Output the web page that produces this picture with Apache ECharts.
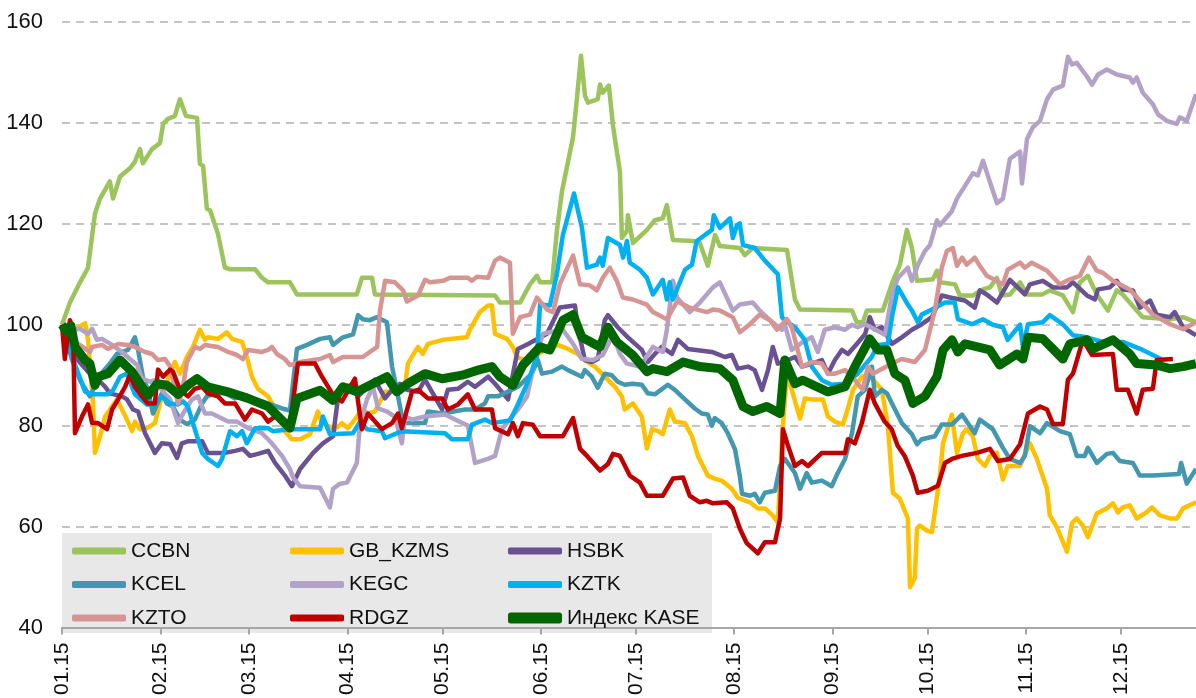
<!DOCTYPE html>
<html>
<head>
<meta charset="utf-8">
<script src="https://cdn.jsdelivr.net/npm/echarts@6/dist/echarts.min.js"></script>
<style>
  html, body { margin: 0; padding: 0; background: #fff; }
  #chart { width: 1196px; height: 698px; }
</style>
</head>
<body>
<div id="chart"></div>
<script>
// x = день года (0 = 1 января 2015), y = значение индекса (старт = 100)
const monthStarts = [0, 31, 59, 90, 120, 151, 181, 212, 243, 273, 304, 334]
const monthLabels = ['01.15', '02.15', '03.15', '04.15', '05.15', '06.15', '07.15', '08.15', '09.15', '10.15', '11.15', '12.15']
const lastDay = 357.7

const ccbn = [[0,100],[2.5,104.4],[5.7,108.4],[8.2,111.3],[10.4,122],[12,125],[15.1,128.4],[16.1,125],[18.3,129.4],[21.4,131],[23,132.3],[24.6,134.8],[25.5,132],[28.4,134.8],[30.9,136],[31.9,139.8],[33.4,140.8],[35.6,141.4],[37.2,144.7],[39.1,141.4],[42.6,141],[43.5,131.9],[44.5,131.5],[45.7,123],[46.7,122.7],[49.2,118],[51.4,111.3],[53,111],[60.9,111],[63.1,109.3],[65,108.4],[71.9,108.4],[74.1,106],[93,106],[94.6,109.3],[97.8,109.3],[98.7,106],[136.6,105.8],[138.1,104.4],[144.5,104.4],[147.6,108],[149.8,109.7],[150.8,108.4],[154.6,108.4],[156.1,118.6],[157.7,126.4],[161.2,137.2],[162.4,144.7],[163.7,153.3],[165,145.3],[165.9,144],[169,144.7],[169.7,147.6],[170.6,146],[172.5,147.4],[173.8,139.4],[176,130.3],[176.6,117.2],[178.2,118.6],[178.5,121.7],[180.1,116.2],[184.5,118.8],[187,120.7],[189.5,121.1],[190.8,123.7],[192.7,116.8],[199,116.6],[201.2,116.2],[203.7,111.7],[206,117.8],[207.5,115.6],[213.8,115.2],[215.4,113.8],[217.9,115.2],[228.7,114.8],[231.2,105],[232.8,103],[249.2,102.8],[250.7,100.5],[252.6,100.5],[253.9,102.8],[258.9,102.8],[262.1,108.7],[264.3,111.9],[266.5,118.8],[268.1,115.2],[269.7,108.7],[274.7,109],[276,110.7],[276.9,108.4],[281.7,108],[283.2,105.8],[287.3,105.8],[290.5,107],[292.7,107.4],[294.9,109.3],[296.5,105.8],[299,106],[302.2,108.4],[304.4,106],[309.1,106],[311.6,106.8],[315.7,105.8],[318.9,102.5],[321.1,108.4],[323.6,109.7],[326.4,106],[329.9,102.8],[332.7,106.8],[334.6,106],[339,102.8],[340.9,101.5],[349.5,101.1],[353.6,101.5],[357.7,100.5]]

const gbKzms = [[0,100],[1.9,98.2],[7.3,100.3],[8.2,97],[9.8,84.4],[10.4,74.6],[12,77.9],[13.6,81.8],[15.8,83.8],[17.3,85.2],[18.9,83.2],[20.5,81.2],[22.1,78.9],[23,80.8],[24.6,79.3],[26.8,79.5],[29.3,80.5],[30.9,84.4],[32.5,87.7],[35.6,92.6],[37.2,90.3],[39.4,93.6],[41.3,95.6],[43.5,99],[45.1,97],[46,97.5],[49.2,97.2],[52,98.5],[53.6,97.2],[56.8,96.6],[58.3,93.6],[59.9,89.7],[61.8,87.3],[65,85.8],[67.2,83.4],[70.3,78.9],[72.5,77.3],[75.1,77.3],[78.2,78.3],[80.7,82.8],[82,80.5],[86.1,79.3],[88.3,80.5],[90.2,79.5],[92.4,81.2],[94.6,83.2],[96.5,82.4],[98.7,82.8],[101.9,86.7],[106,86.7],[108.2,87.7],[109.1,92.3],[112.3,95.6],[113.8,94.2],[115.4,96.2],[120.2,97],[127.7,97.5],[128.7,99.1],[131.8,102.5],[134.4,103.8],[135.6,103.8],[136.6,98.2],[140.4,97.2],[142.2,95.6],[143.5,93.6],[146,93],[153.3,95.2],[156.4,96],[159.6,95.2],[162.7,94.2],[164.9,93],[168.1,91.7],[171.2,89.7],[174.4,87.7],[176.6,85.8],[177.5,83.2],[180.1,84.4],[182.9,81.8],[184.5,75.5],[186.1,79.3],[188,78.9],[189.5,78.3],[191.7,83.2],[193.3,80.8],[196.5,80.5],[198.7,77.9],[200.6,74],[203.7,70.1],[205.9,69.5],[208.1,69.1],[211.3,67.5],[213.2,65.7],[217,64.8],[219.5,63.6],[221.7,63.6],[224.2,62.2],[225.8,60.8],[227.4,80],[228.7,90.3],[230.2,87.1],[232.8,81.4],[234.3,85.4],[236.5,85.2],[240,85.2],[241.6,81.8],[243.8,80.8],[246.3,80.2],[247.9,83.4],[249.5,87.1],[252.3,89.7],[254.2,90.1],[256.4,88.7],[258.6,87.1],[260.5,80],[262.1,66.7],[264.3,65.5],[266.8,61.6],[267.5,48],[269,49.8],[269.7,59.6],[270.6,60.2],[272.8,59.2],[274.4,58.9],[275.3,62.8],[276.9,70],[277.9,76.5],[280.7,82.2],[282.3,74.6],[284.2,78.5],[285.4,79.3],[287.3,77.9],[288.9,73.4],[291.1,72],[292.7,74],[294.9,74.6],[296.8,69.3],[298.3,72],[302.2,72],[303.1,73.4],[305.3,76.5],[307.5,73.4],[310.7,67.5],[311.6,62.2],[313.8,59.9],[317,55],[318.6,60.7],[320.1,61.6],[322,60.2],[323.6,57.9],[326.4,62.6],[329.6,63.6],[331.5,64.6],[333.1,62.8],[334.6,63.8],[336.8,64.2],[339,61.6],[342.1,62.8],[343.8,63.8],[346.3,62.2],[349.5,61.6],[351.7,61.6],[353.6,63.6],[357.7,64.8]]

const hsbk = [[0,100],[4.1,93.6],[8.8,90.3],[11.4,89.1],[13.6,87.7],[15.1,86.4],[18.9,85.8],[20.5,85.2],[22.4,83.2],[24,82.8],[26.2,78.5],[29.3,74.6],[31.5,76.5],[34.1,76.3],[36.3,73.6],[37.8,76.5],[39.7,76.9],[44.2,76.9],[46,74.6],[51.4,74.6],[54.6,75],[57.1,75.4],[59.3,74],[61.8,74.4],[65,75],[67.2,72.6],[70.3,70.1],[72.5,68],[75.1,71.4],[79.2,74.6],[82.3,76.5],[85.5,77.9],[87,85.2],[88.6,87.7],[92.4,88.1],[93.4,85.8],[98.7,89.1],[101.9,85.4],[104.1,87.1],[106.6,88.3],[108.8,87.1],[112.3,86.7],[114.5,89.1],[116.7,86.7],[119.9,83.2],[121.7,87.1],[124.9,87.3],[128,88.7],[130.3,87.7],[134.4,89.7],[136.6,88.3],[140.7,85.2],[143.8,95.2],[145.1,95.6],[147,96.2],[153,98.2],[157,103.4],[161.8,103.8],[162.7,99.5],[164.9,93],[167.1,92.6],[169,93.2],[171.2,100.9],[172.2,101.9],[175.3,99.5],[178.5,97.5],[182.9,95],[184.8,92.6],[187,94.2],[189.2,95.6],[192.4,94.2],[194.3,97],[197.4,95.2],[205,94.6],[209.1,93.6],[211.3,94],[213.2,91.3],[216.4,91.7],[218.5,91],[220.8,87.1],[222.7,91],[224.2,95.6],[225.8,92.3],[229,93],[231.2,93.6],[233.4,91.7],[236.5,92.3],[239.7,93],[241.6,90.3],[243.8,93],[246,95],[247.9,94.2],[250.7,96.2],[253.3,98.1],[254.8,101.5],[256.4,99],[258.6,99.5],[261.8,96.2],[264.9,97.5],[268.1,99],[271.2,100.1],[274.4,101.5],[277.5,105.8],[280.1,105.4],[284.8,104.8],[287.9,103.4],[289.5,106.8],[291.7,106],[294.9,104.4],[299,108.9],[303.7,106],[305.3,108],[309.4,108.7],[312.6,107.4],[317,107.4],[318.9,108.4],[323.3,105.8],[325.8,105],[326.8,107],[330.5,107.4],[332.7,108.7],[334.6,107],[337.8,106.8],[340,103.4],[343.2,104.8],[345.3,102],[349.5,101.5],[351,102.5],[353.6,99.5],[357.7,97.9]]

const kcel = [[0,100],[3.2,93],[5.7,89],[8.8,85.8],[12,90],[15.1,92.3],[17.3,94.2],[20.8,95],[23,97.5],[24,95],[25.5,89.7],[27.1,87.1],[28.7,82.4],[31.5,86.4],[33.1,84.4],[35,83.8],[37.2,81.2],[39.4,80.3],[41.9,81.2],[44.2,84.4],[45.7,85.8],[48.3,86.4],[51.4,86.4],[54.6,85.4],[56.8,85.8],[60.9,85.2],[65,84.4],[69.4,83.4],[71.9,83],[74.1,95.2],[77.3,96],[81.4,97.2],[84.5,97.5],[85.5,96],[88.6,97.5],[91.8,98.1],[93.4,101.9],[94.9,101.1],[97.1,100.9],[99.4,101.5],[102.5,100.5],[104.1,91.7],[105.6,87.1],[107.6,80.5],[114.5,80.5],[115.4,82.8],[119.9,82.4],[127.1,83.2],[130.3,83.2],[133.4,84.4],[134.4,85.8],[137.5,85.8],[141.9,87.1],[143.8,87.7],[148.2,90.3],[150.1,93],[151.4,90.3],[154.5,90.7],[157.7,91.7],[159.6,91],[164,89.7],[164.9,91],[167.1,89.7],[169,87.5],[171.2,90.3],[173.4,90],[175.3,88.7],[177.5,88.1],[179.8,88.3],[182.9,88.1],[184.8,86.4],[187,86.2],[191.1,88.1],[193.3,87.1],[196.5,85.2],[199.6,83.4],[201.8,82.4],[203.7,82.2],[205,80],[205.9,81.5],[208.1,80.5],[210,78.5],[212.3,75.3],[213.8,70],[214.5,66.5],[217,66.1],[218.5,66.5],[220.1,64.8],[221.7,66.7],[224.9,67.1],[226.5,72],[228,73.4],[231.2,70.6],[232.8,67.5],[234.9,70.6],[236.5,68.7],[239.7,69.1],[242.8,68],[244.7,70.6],[247,73.4],[249.2,78.5],[251,85.8],[253.3,87.1],[255.5,91.7],[256.4,85.8],[258.6,87.1],[260.2,86.4],[261.8,84.4],[264.9,80.5],[268.1,78.3],[269.7,76.3],[271.2,77.3],[275.3,77.9],[277.5,80.2],[280.7,80.2],[283.9,82.2],[285.7,80.5],[287.9,78.5],[289.5,81.2],[293.6,79.3],[296.8,75.6],[299,73.4],[302.2,72.6],[303.7,74],[305.3,79.9],[308.5,78.5],[310.7,80.5],[314.8,78.9],[317.9,78.3],[320.1,74],[322.6,74],[323.6,75.6],[326.4,72.6],[329.6,74.4],[331.5,74.6],[333.7,73],[337.8,72.6],[340,70.1],[344.1,70.1],[352.3,70.4],[353,72.6],[354.8,68.5],[357.7,71.4]]

const kegc = [[0,100],[4.1,99],[5.7,99.2],[8.2,98.2],[9.5,99.2],[11,97],[12.6,97.2],[15.8,96],[18.9,94.6],[21.4,93.2],[23.7,92],[25.2,89.3],[27.8,88.7],[29.3,89],[31.9,86.7],[34.1,85.2],[36.6,80.5],[38.2,82.4],[41,85.2],[42.9,85.8],[45.1,82.4],[47.3,82.4],[49.2,81.8],[52.4,80.8],[55.2,80.8],[58.7,79.5],[63.1,78.5],[66.2,76.5],[69.4,74],[71.9,71.4],[72.9,69.7],[75.1,68],[81.4,67.7],[84.5,63.8],[85.5,67.5],[87.7,68.5],[89.9,68.7],[93,72.6],[94,80.5],[96.2,85.2],[98.1,87.7],[99.7,83.4],[102.5,82.8],[105,81.8],[107.2,76.5],[108.2,81.8],[110.4,81.2],[114.5,81.8],[120.8,82.2],[124,81.2],[128,80],[130.3,72.6],[134.4,73.4],[136.6,74],[138.8,79.3],[141.9,81.8],[143.8,83.2],[146.7,85.8],[149.2,93],[151.7,98.2],[158,99],[161.2,96.2],[164,93.2],[167.5,93],[170.6,94],[173.8,98],[176,94.2],[178.2,92.3],[182.3,91.7],[186.4,95.6],[189.5,94.6],[190.8,99],[192.7,108.7],[194,105.4],[198,102.5],[201.2,104.4],[205.3,107.4],[207.5,108.4],[209.7,105.4],[211.6,102.8],[213.8,104],[217.9,104.4],[220.1,102.8],[223.3,100.9],[227.1,99],[228,100.1],[230.2,95],[233.7,96.6],[236.5,97.5],[238.4,94.6],[240.6,99],[243.8,99.5],[247,99],[249.2,100],[251,99.5],[253.3,100.1],[259.6,98],[261.8,106],[263.7,109.3],[266.8,111.3],[268.1,108.7],[270,111.9],[272.2,114.6],[273.8,115.8],[276,120.7],[276.9,119.7],[280.7,122.5],[282.3,125],[287.3,130],[288.9,129.6],[290.5,132.5],[294.9,124.1],[296.8,125],[299,132.9],[302.2,134.3],[302.8,128],[304.4,136.8],[306.3,139.2],[308.5,140.4],[310.7,144.7],[312.6,146.6],[315.7,147.4],[317.3,153.1],[318.6,151.6],[320.1,151.9],[323.3,149.2],[324.9,147.6],[326.8,149.6],[329.6,150.6],[332.7,149.6],[336.8,149],[337.8,148],[339,149],[340.9,146],[344.1,143.7],[345.7,141.7],[348.5,140.4],[351.6,139.8],[352.6,141.1],[354.8,140.4],[357.7,145.7]]

const kztk = [[0,100],[3.2,93.6],[7.3,86.7],[9.8,86.2],[14.5,86.2],[16.1,87],[18.3,89.7],[20.5,90.3],[23,86.2],[26.8,84.2],[29.3,84.2],[31.5,85.8],[34.1,84.4],[36.6,84.2],[38.2,84.8],[39.7,83.8],[44.2,74.6],[46,73.4],[49.2,72],[50.5,73.4],[53,78.9],[55.2,77.9],[56.8,78.9],[58.3,76.5],[60.9,79.5],[65,79.5],[66.5,78.9],[71.9,79.3],[81.4,79.3],[82.3,81.8],[84.5,78.3],[91.8,78.5],[94,80.8],[96.2,79.3],[100.9,78.9],[101.9,77.5],[107.2,78.9],[120.8,78.5],[123,77.3],[128,77.3],[129.3,80.2],[133.4,81.2],[135.6,80.5],[141.3,81],[143.5,83.8],[146.7,88.3],[149.8,93.6],[150.8,104],[153.9,103.8],[156.1,110],[158,117.8],[161.5,126],[164,119.2],[165.6,111.3],[168.7,111.9],[169.7,113.3],[170.6,111.7],[172.2,117.2],[176,115.8],[177,113.3],[178.2,116.6],[179.1,112.3],[182.3,110.9],[184.5,109.3],[186.4,106],[189.5,108.9],[190.8,105],[191.7,108.4],[192.7,105],[196.5,110.9],[198.7,111.9],[200.2,116.6],[205,118.8],[205.6,121.7],[207.5,119.2],[210.7,121.1],[211.6,117.2],[212.9,119.7],[213.8,120.1],[214.8,115.8],[218.5,115.2],[221.7,112.7],[225.8,110],[227.1,101.5],[228,100.9],[231.2,99.5],[234.3,97],[236.5,91.7],[239.7,89],[242.8,88.1],[247,88.3],[251,90.3],[255.4,93.6],[257.3,96],[260.5,96.2],[261.8,101.5],[263.7,107.4],[266.8,104],[268.1,102.8],[270,100.5],[271.2,102],[274.4,103],[278.5,104.4],[281.6,104.4],[282.6,101.1],[287,100.1],[290.5,101.1],[293.6,100],[296.8,99.5],[298.3,97],[302.2,100],[303.1,95.6],[304.7,100.1],[309.4,100.5],[311.6,101.9],[315.7,100.1],[318.9,97.9],[323.3,97.5],[328.3,96.6],[334.6,96.6],[340.9,95],[344.1,94],[347.2,93]]

const kzto = [[0,100],[3.2,97],[8.8,94.6],[9.5,95.6],[12.6,96],[14.5,95.2],[17.7,96.2],[20.8,96],[23,95.6],[26.2,94.6],[28.4,94.2],[30.3,93],[32.5,93.2],[34.1,91.7],[35.6,87.1],[36.6,84.4],[37.8,86.4],[39.4,92.6],[41.9,95.6],[43.5,95.2],[45.1,96],[49.2,95.6],[52.4,94.6],[55.2,94],[57.1,93.2],[58.7,95],[63.1,94.6],[65,95],[66.2,95.6],[67.8,94.2],[70.3,93.2],[71.9,92],[75.1,92.6],[81.4,93.2],[84.5,94],[85.5,92.6],[88.6,93.6],[94.9,93.6],[97.1,94.6],[99.4,95.6],[100.3,102.8],[101.9,108.7],[105,108.4],[107.6,106.8],[108.8,104.6],[112.3,105.8],[114.5,108.9],[116.1,108.4],[120.2,108.7],[122.4,109.3],[128,109.3],[129.3,108.7],[130.9,109.5],[134.4,109.3],[136.6,112.7],[138.1,113.3],[141.3,112.3],[142.2,98.2],[144.5,101.5],[147.6,102],[149.8,105.4],[153,103],[154.9,102.5],[157,108],[161.2,113.7],[163.4,108],[166.5,107.8],[168.7,106.8],[170.6,109.3],[172.8,111.3],[175,108.7],[176.9,105.4],[180.1,105],[184.5,104],[186.4,102.5],[190.8,101.1],[194,104.6],[198,103.4],[203.4,102.5],[205.3,103],[207.5,102.8],[211.6,101.5],[213.8,98.5],[217,100.1],[220.1,102],[223.3,100.9],[225.5,99],[228.7,101.1],[230.2,99.5],[233.4,91.7],[236.5,92.6],[239.7,92.3],[241.6,90.3],[243.8,90.3],[247,91],[250.1,89],[252.6,87.1],[254.2,91.7],[255.8,90.3],[261.8,92.3],[264.9,93.2],[269,92.6],[272.2,95],[275.3,102.8],[277.5,111.3],[279.1,114.6],[281,115.2],[282.3,111.7],[283.9,113.3],[285.4,111.9],[287.9,113.3],[289.5,111.7],[291.7,109.7],[294.9,108.7],[296.8,108],[298.3,110.9],[302.2,112.3],[303.7,111.3],[305.9,112.3],[310.7,110.7],[314.8,108],[317.9,109],[321.1,109.7],[323.9,113.3],[326.4,110.7],[328.3,110.3],[331.5,108.7],[336.8,107],[340,104.8],[344.1,102],[349.5,100.1],[353.6,99.1],[357.7,100.5]]

const rdgz = [[0,100],[0.9,93.2],[2.5,100.9],[3.5,99],[4.1,78.5],[6.3,81.8],[8.2,84.2],[9.5,80.5],[11.4,80.5],[14.2,79.3],[15.8,83.2],[17.7,85.2],[19.9,87.7],[21.4,90],[23,87.7],[25.2,85.8],[27.1,84.4],[29.3,84.4],[30.3,91.1],[31.9,89.7],[34.1,91.1],[35,90.7],[37.2,87.1],[39.7,85.8],[41.9,87.3],[44.2,87.7],[46,86.4],[49.2,85.8],[51.4,84.4],[54.6,84.4],[57.7,81.2],[59.9,83.2],[63.1,82.4],[65,80.8],[67.2,81.8],[70.3,80.5],[71.9,79.9],[74.4,92.3],[79.8,92.3],[82,89.7],[85.2,86.4],[88.3,84.8],[92.4,89.3],[94.6,79.3],[96.5,82.4],[100.9,79.3],[104.1,80.5],[106,82.4],[107.2,79.5],[110.4,86.7],[112.3,87.1],[115.4,85.4],[119.9,85.4],[121.7,83.2],[124.9,84.2],[128,86.2],[130.3,83.2],[135.6,83.2],[136.6,79.5],[140.7,78.3],[142.2,80.5],[143.8,77.9],[145.4,80.5],[148.5,80.2],[150.8,77.9],[158,77.9],[161.2,81.5],[163.4,75.4],[165.6,74],[169.7,71.1],[172.2,72.4],[173.8,74.4],[176,74],[179.1,70.1],[182.3,68.7],[184.5,66.1],[189.5,66.1],[192.7,69.5],[195.9,69.7],[198,66.1],[201.2,64.8],[203.4,65.1],[205.3,64.6],[209.7,64.8],[211.6,63.6],[213.8,59.6],[216,56.7],[219.5,54.7],[221.7,56.9],[224.9,56.9],[226.5,61.6],[227.4,79.3],[229,76],[231.2,72],[233.4,73],[235.3,72],[239.7,74.6],[247,74.6],[247.9,77.3],[250.1,76.5],[252.3,80.5],[254.8,87.1],[256.4,84.4],[259.5,80.8],[261.7,79.3],[263.6,76],[265.8,74],[268.4,70.1],[269.9,66.7],[273.1,67.1],[276.3,68.1],[278.5,72.6],[280.7,73.4],[283.8,74],[288.6,74.6],[292.7,75.4],[295.2,73],[299,73.4],[302.2,76.3],[304.7,82.4],[308.5,83.8],[310.7,83.2],[312.6,80.3],[315.7,80.3],[317.3,89.1],[318.9,90.3],[322,97],[324.9,94],[331.5,94.2],[332.7,87.1],[336.2,87.1],[339,82.4],[340.9,87.1],[344.1,87.3],[345.3,93],[350.4,93.2]]

const kase = [[0,100],[1.6,98.5],[2.8,99.8],[4.1,95.6],[7.3,93],[8.8,92.3],[10.4,88],[11.4,89.7],[14.5,90.3],[18.3,93],[22.1,90.7],[25.2,87.7],[27.1,86],[30,88.3],[33.1,88],[36.6,86.2],[39.7,88],[42.6,89.3],[46,87.7],[52.3,86.7],[58.7,85.4],[65,83.8],[71.9,79.5],[74.1,85.4],[81.4,87],[85.5,85],[88.6,87.7],[93,86.7],[97.1,88],[102.5,89.7],[105.6,86.7],[109,88.3],[114.5,90.3],[119.9,89.3],[126.2,90],[131.2,91],[135.6,91.7],[138.1,89.7],[142.2,88],[145.4,92],[150.8,95.6],[153.9,95],[158,100.9],[161.2,102],[164,97.5],[169.7,95.6],[172.2,99.5],[175,96.6],[180,94],[184.5,90.7],[186.4,91.3],[190.8,90.7],[195.9,92.6],[201.2,91.7],[207.5,91.3],[211.6,89],[214.8,83.8],[217.9,82.8],[222.3,83.8],[226.5,82.4],[228,93],[231.2,88.3],[233.7,89],[241.6,86.7],[247,87.7],[250.1,91.7],[254.8,97.2],[257.4,95],[260.2,95],[262.7,90.3],[265.9,89],[268.4,84.4],[272.2,85.8],[276,89.7],[277.9,95],[280.7,97],[282.6,94.6],[284.8,96.2],[292.7,95],[295.8,92],[301.2,94.2],[303.1,93.2],[304.7,97.5],[309.4,97.2],[315.7,93.2],[317.9,96.2],[323.3,97],[325.2,95.2],[331.5,97],[336.8,94.2],[339,92.3],[345.3,92],[349.5,91.3],[353.6,91.7],[357.7,92.3]]

const seriesList = [
  { name: 'CCBN', data: ccbn, color: '#9BC45C', width: 4.5 },
  { name: 'GB_KZMS', data: gbKzms, color: '#FFC000', width: 4.5 },
  { name: 'HSBK', data: hsbk, color: '#6A5192', width: 4.5 },
  { name: 'KCEL', data: kcel, color: '#4398AF', width: 4.5 },
  { name: 'KEGC', data: kegc, color: '#B3A2C7', width: 4.5 },
  { name: 'KZTK', data: kztk, color: '#00B0F0', width: 4.5 },
  { name: 'KZTO', data: kzto, color: '#D69592', width: 4.5 },
  { name: 'RDGZ', data: rdgz, color: '#C00000', width: 4.5 },
  { name: 'Индекс KASE', data: kase, color: '#006600', width: 9 }
]

const font = 'Liberation Sans, Arial, sans-serif'

function legendCol(names, left, iconH) {
  return {
    orient: 'vertical',
    left: left,
    top: 539,
    padding: 0,
    itemGap: 9.5,
    itemWidth: 54,
    itemHeight: iconH,
    icon: 'roundRect',
    selectedMode: false,
    textStyle: { fontFamily: font, fontSize: 21, color: '#111', lineHeight: 24 },
    data: names
  }
}

let myChart = echarts.init(document.getElementById('chart'))
let option = {
  animation: false,
  backgroundColor: '#fff',
  grid: { left: 62, right: 0, top: 22, bottom: 65 },
  graphic: [{
    type: 'rect',
    left: 62, top: 533,
    shape: { width: 650, height: 100 },
    style: { fill: '#E8E8E8' },
    z: 0
  }],
  legend: [
    legendCol(['CCBN', 'KCEL', 'KZTO'], 72, 7),
    legendCol(['GB_KZMS', 'KEGC', 'RDGZ'], 290, 7),
    legendCol(['HSBK', 'KZTK'], 508, 7),
    Object.assign(legendCol(['Индекс KASE'], 508, 11), { top: 606 })
  ],
  xAxis: {
    type: 'value',
    min: 0,
    max: lastDay,
    axisLine: { show: true, lineStyle: { color: '#A6A6A6', width: 2 } },
    axisTick: { show: true, length: 7, customValues: monthStarts, lineStyle: { color: '#A6A6A6', width: 2 } },
    axisLabel: {
      customValues: monthStarts,
      rotate: 90,
      margin: 15,
      fontFamily: font,
      fontSize: 21,
      color: '#111',
      formatter: v => monthLabels[monthStarts.indexOf(Math.round(v))] || ''
    },
    splitLine: { show: false }
  },
  yAxis: {
    type: 'value',
    min: 40,
    max: 160,
    interval: 20,
    axisLine: { show: false },
    axisTick: { show: false },
    axisLabel: { fontFamily: font, fontSize: 22, color: '#111', margin: 19 },
    splitLine: { show: true, lineStyle: { color: '#C4C4C4', width: 2, type: [8, 6] } }
  },
  series: seriesList.map((s, i) => ({
    name: s.name,
    type: 'line',
    data: s.data,
    color: s.color,
    symbol: 'none',
    z: 2 + i,
    lineStyle: { color: s.color, width: s.width, join: 'round' }
  }))
}
myChart.setOption(option)
</script>
</body>
</html>
